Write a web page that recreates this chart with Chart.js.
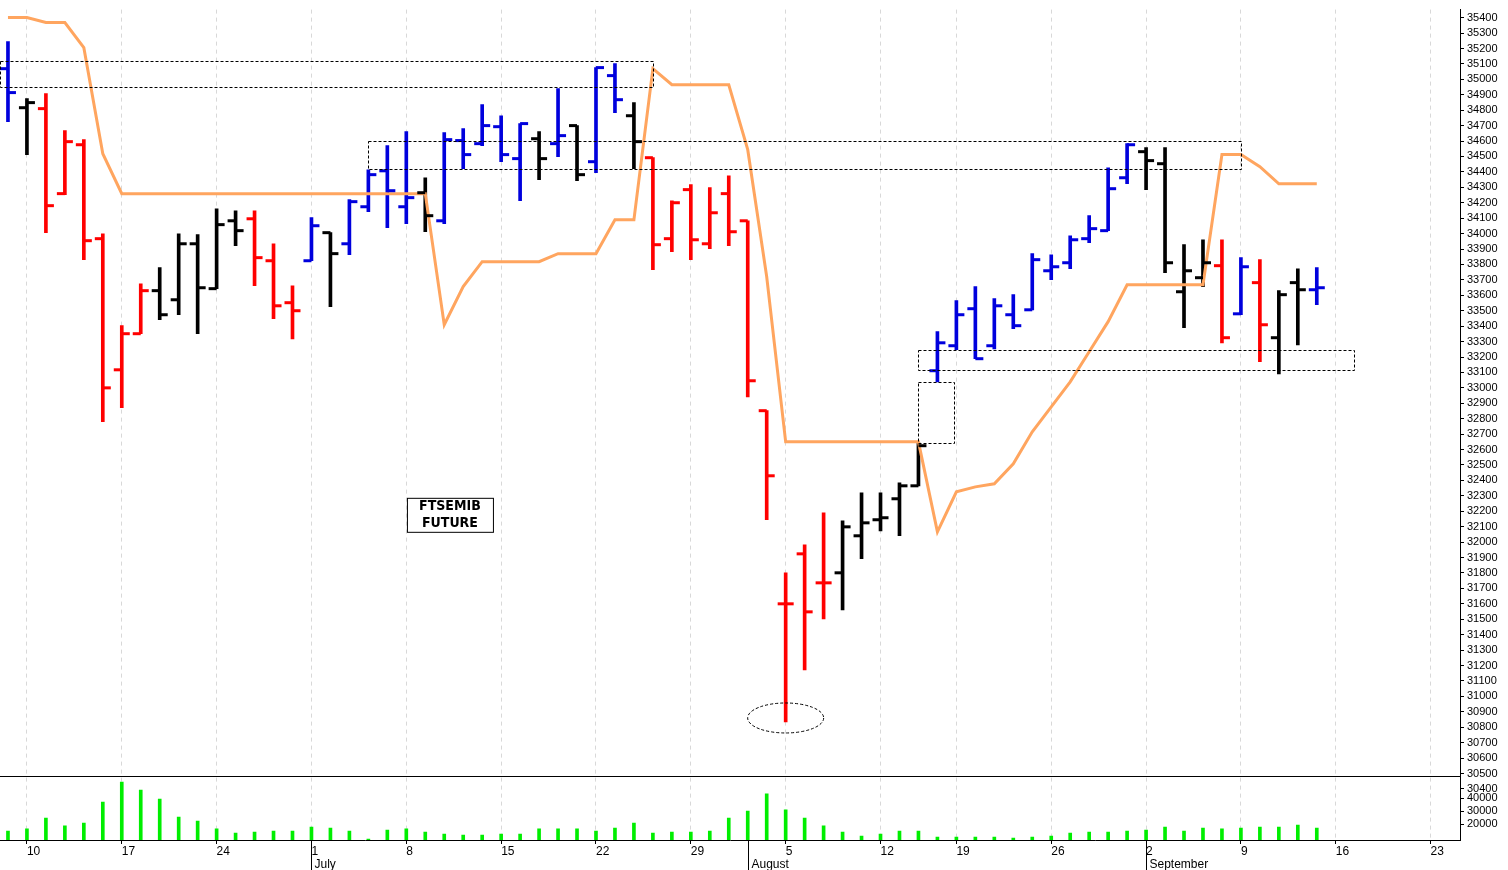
<!DOCTYPE html>
<html><head><meta charset="utf-8">
<script src="https://cdn.jsdelivr.net/npm/chart.js@4"></script>
<style>html,body{margin:0;padding:0;background:#fff}#c{display:block}</style>
</head><body>
<div style="width:1508px;height:870px"><canvas id="c"></canvas></div>
<script>
const opens  = [35069,34816,34810,34259,34576,33967,33117,33351,33630,33571,33934,33643,34083,34096,33824,33552,33824,34006,33934,34174,34407,34174,34265,34083,34603,34583,34693,34486,34615,34583,34700,34466,35024,34764,34492,33967,34285,33934,34259,34083,32852,31600,31924,31736,31801,32041,32145,32281,32365,33111,33273,33513,33273,33474,33506,33759,33811,33967,34019,34362,34531,34453,33623,33714,33792,33480,33682,33325,33682,33636];
const highs  = [35244,34875,34907,34667,34609,33999,33403,33675,33779,33999,33993,34161,34148,34148,33934,33662,34103,34006,34220,34414,34570,34661,34362,34654,34680,34836,34764,34713,34661,34940,34700,35076,35102,34849,34492,34213,34317,34298,34375,34083,32852,31801,31982,32190,32138,32320,32320,32385,32644,33364,33565,33656,33578,33604,33870,33863,33986,34116,34427,34583,34557,34557,33928,33960,33960,33844,33831,33630,33772,33779];
const lows   = [34726,34512,34006,34252,33831,32780,32871,33351,33442,33474,33351,33643,33921,33662,33448,33318,33824,33526,33863,34142,34038,34064,34012,34064,34421,34570,34466,34213,34349,34499,34343,34395,34784,34421,33766,33883,33831,33902,33921,32942,32145,30835,31172,31502,31561,31892,32073,32041,32365,33039,33247,33189,33253,33383,33506,33701,33772,33941,34019,34323,34285,33746,33390,33656,33292,33474,33169,33091,33279,33539];
const closes = [34914,34849,34181,34596,33954,33000,33351,33630,33474,33934,33649,34058,34019,33844,33532,33500,34051,33870,34207,34382,34278,34233,34116,34609,34512,34700,34512,34713,34486,34635,34382,35076,34868,34596,33928,34200,33960,34135,34012,33046,32430,31600,31548,31736,32099,32125,32158,32365,32625,33292,33474,33189,33532,33403,33831,33785,33960,34032,34291,34576,34473,33811,33759,33811,33325,33785,33409,33604,33636,33649];
const barKinds = "bkrrrrrrkkkkkrrrbkbbbbkbbbbbkbkbbkrrrrrrrrrrkkkkkbbbbbbbbbbbkkkkrbrkkb";
const stopLine = [35400,35400,35368,35368,35205,34518,34259,34259,34259,34259,34259,34259,34259,34259,34259,34259,34259,34259,34259,34259,34259,34259,34259,33409,33656,33818,33818,33818,33818,33870,33870,33870,34090,34090,35069,34965,34965,34965,34965,34544,33720,32650,32650,32650,32650,32650,32650,32650,32650,32067,32326,32358,32378,32508,32715,32877,33039,33234,33429,33668,33668,33668,33668,33668,34512,34512,34434,34323,34323,34323];
const volumes = [14600,16200,24600,18500,20800,36900,52300,46100,39200,25400,22300,16200,13100,13800,14600,14600,17700,16900,14600,8500,15400,16200,13800,12300,11500,11500,12300,12300,16200,16200,16200,14600,16900,20800,13100,13800,13800,14600,24600,30000,43100,30800,24600,18500,13800,10800,12300,14600,14600,10000,10000,10000,10000,9200,10000,10800,13100,13800,13800,14600,15400,17700,14600,16900,16200,16900,17700,17700,19200,16900];
const dayTicks = {1:'10',6:'17',11:'24',16:'1',21:'8',26:'15',31:'22',36:'29',41:'5',46:'12',50:'19',55:'26',60:'2',65:'9',70:'16',75:'23'};
const monthTicks = [[16,'July'],[39,'August'],[60,'September']];
const volumeTicks = [20000,30000,40000];
const boxes = [[-0.5,34,35121,34952],[19,65,34602,34421],[48,71,33247,33117],[48,49.9,33039,32644]];
const ellipseMark = [41,30860];
const titleLines = ['FTSEMIB','FUTURE'];
const titlePos = [23.3,32177];

const colorOf = k => k==='b' ? '#0000dd' : (k==='r' ? '#ff0000' : '#000000');
const kinds = barKinds.split('');
const priceBars = highs.map((h,i)=>({x:i,y:[lows[i],h]}));
const volBars = volumes.map((v,i)=>({x:i,y:v}));
const lineData = stopLine.map((v,i)=>({x:i,y:v}));

const extras = {
  id:'extras',
  afterDatasetsDraw(chart){
    const ctx=chart.ctx, xs=chart.scales.x, ys=chart.scales.y, yv=chart.scales.yv, a=chart.chartArea;
    ctx.save();
    ctx.lineWidth=3; ctx.lineCap='butt';
    for(let i=0;i<opens.length;i++){
      const x=xs.getPixelForValue(i);
      ctx.strokeStyle=colorOf(kinds[i]);
      const yo=ys.getPixelForValue(opens[i]), yc=ys.getPixelForValue(closes[i]);
      ctx.beginPath(); ctx.moveTo(x-8,yo); ctx.lineTo(x,yo); ctx.stroke();
      ctx.beginPath(); ctx.moveTo(x,yc); ctx.lineTo(x+8,yc); ctx.stroke();
    }
    ctx.lineWidth=1; ctx.strokeStyle='#000'; ctx.setLineDash([3,2]);
    boxes.forEach(b=>{
      const x1=Math.max(a.left,xs.getPixelForValue(b[0])), x2=xs.getPixelForValue(b[1]);
      const y1=ys.getPixelForValue(b[2]), y2=ys.getPixelForValue(b[3]);
      ctx.strokeRect(Math.round(x1)+0.5,Math.round(y1)+0.5,Math.round(x2-x1),Math.round(y2-y1));
    });
    ctx.beginPath();
    ctx.ellipse(xs.getPixelForValue(ellipseMark[0]),ys.getPixelForValue(ellipseMark[1]),38,15,0,0,Math.PI*2);
    ctx.stroke();
    ctx.setLineDash([]);
    const tx=xs.getPixelForValue(titlePos[0]), ty=ys.getPixelForValue(titlePos[1]);
    ctx.fillStyle='#fff'; ctx.fillRect(tx-43,ty-17,86,34);
    ctx.strokeRect(tx-43+0.5,ty-17+0.5,86,34);
    ctx.fillStyle='#000'; ctx.font='bold 14px "DejaVu Sans Condensed", "Liberation Sans"'; ctx.textAlign='center'; ctx.textBaseline='middle';
    ctx.fillText(titleLines[0],tx,ty-8); ctx.fillText(titleLines[1],tx,ty+9);
    ctx.strokeStyle='#000'; ctx.lineWidth=1;
    ctx.beginPath(); ctx.moveTo(0,776.5); ctx.lineTo(a.right,776.5); ctx.stroke();
    ctx.font='11px "Liberation Sans", Arial'; ctx.textAlign='left';
    volumeTicks.forEach(v=>{
      const y=yv.getPixelForValue(v);
      ctx.beginPath(); ctx.moveTo(a.right,Math.round(y)+0.5); ctx.lineTo(a.right+4,Math.round(y)+0.5); ctx.stroke();
      ctx.fillText(String(v),a.right+7,y);
    });
    ctx.font='12px "Liberation Sans", Arial'; ctx.textBaseline='alphabetic';
    monthTicks.forEach(m=>{
      const x=Math.round(xs.getPixelForValue(m[0]))+0.5;
      ctx.beginPath(); ctx.moveTo(x,a.bottom); ctx.lineTo(x,870); ctx.stroke();
      ctx.fillText(m[1],x+3,868);
    });
    ctx.restore();
  }
};

new Chart(document.getElementById('c'),{
  data:{datasets:[
    {type:'line',data:lineData,borderColor:'rgb(255,165,95)',borderWidth:3,pointRadius:0,yAxisID:'y',order:0,tension:0},
    {type:'bar',data:priceBars,backgroundColor:kinds.map(colorOf),barThickness:3,grouped:false,yAxisID:'y',order:1},
    {type:'bar',data:volBars,backgroundColor:'#00ee00',barThickness:3,grouped:false,yAxisID:'yv',order:2}
  ]},
  plugins:[extras],
  options:{
    responsive:true,maintainAspectRatio:false,animation:false,
    layout:{padding:0},
    plugins:{legend:{display:false},tooltip:{enabled:false}},
    scales:{
      x:{type:'linear',min:-0.42,max:76.55,offset:false,
        afterBuildTicks(s){s.ticks=Object.keys(dayTicks).map(k=>({value:+k}));},
        afterFit(s){s.height=30;},
        ticks:{callback:v=>dayTicks[v]||'',autoSkip:false,maxRotation:0,align:'start',padding:0,color:'#000',font:{family:'"Liberation Sans", Arial',size:12}},
        grid:{color:'#d8d8d8',offset:false,drawTicks:true,tickLength:4,tickColor:'#000'},
        border:{color:'#000',dash:[4,4]}
      },
      y:{type:'linear',position:'right',min:30069,max:35452,
        afterBuildTicks(s){const t=[];for(let v=30400;v<=35400;v+=100)t.push({value:v});s.ticks=t;},
        afterFit(s){s.width=48;},
        ticks:{autoSkip:false,padding:3,color:'#000',callback:v=>String(v),font:{family:'"Liberation Sans", Arial',size:11}},
        grid:{drawOnChartArea:false,tickLength:4,tickColor:'#000'},
        border:{color:'#000'}
      },
      yv:{type:'linear',display:false,min:7700,max:646000}
    }
  }
});
</script>
</body></html>
